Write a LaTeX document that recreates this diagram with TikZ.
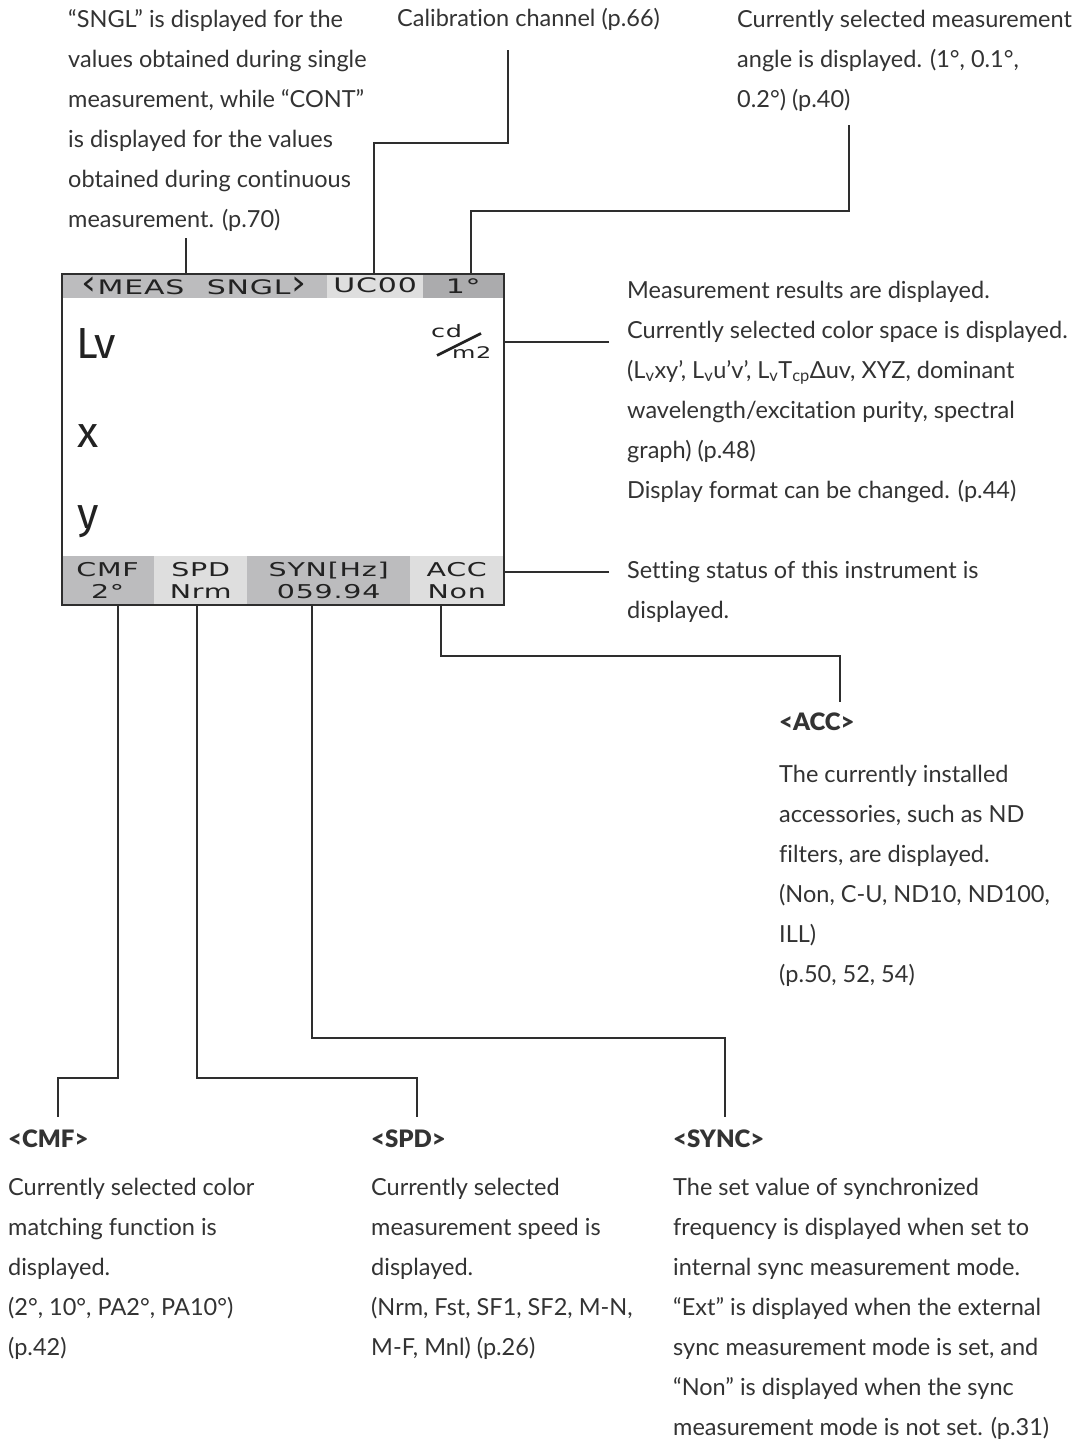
\documentclass[tikz,border=0pt]{standalone}
\usepackage{fontspec}
\setmainfont{Lato}[Ligatures=NoCommon]
\newfontfamily\headfont{Lato Black}
\newfontfamily\lcd[FakeStretch=1.5,LetterSpace=4]{DejaVu Sans}
\newfontfamily\dispfont{Fira Sans}
\definecolor{txt}{HTML}{333333}
\definecolor{linec}{HTML}{2E2E2E}
\definecolor{gmid}{HTML}{BCBCBE}
\definecolor{glight}{HTML}{DEDEDE}
\definecolor{gdark}{HTML}{ABABAD}
\definecolor{lcdtxt}{HTML}{222222}
\newcommand{\lbr}{\raisebox{0.5pt}{\scalebox{1.25}[1.7]{‹}}}
\newcommand{\rbr}{\raisebox{0.5pt}{\scalebox{1.25}[1.7]{›}}}
\tikzset{
  body/.style={anchor=base west, inner sep=0pt, align=left, text=txt, font=\fontsize{23.5}{40}\selectfont},
  head/.style={anchor=base west, inner sep=0pt, text=txt, font=\headfont\fontsize{24}{28}\selectfont},
  conn/.style={draw=linec, line width=1.5pt},
  barseg/.style={anchor=north west, inner sep=0pt, text=lcdtxt, align=center, font=\lcd\fontsize{20}{22}\selectfont},
  dispvar/.style={anchor=base west, inner sep=0pt, text=lcdtxt, font=\dispfont\fontsize{43.5}{44}\selectfont},
}
\begin{document}
\begin{tikzpicture}[x=1pt,y=-1pt]
\useasboundingbox (0,0) rectangle (1087,1440);
\fill[white] (0,0) rectangle (1087,1440);

% display bars
\node[barseg, fill=gmid, minimum width=266pt, minimum height=25pt] (meas) at (61,273) {\lbr\hspace{1pt}MEAS\hspace{12pt} SNGL\hspace{1pt}\rbr};
\node[barseg, fill=glight, minimum width=96pt, minimum height=25pt] (uc) at (327,273) {UC00};
\node[barseg, fill=gdark, minimum width=80pt, minimum height=25pt] (ang) at (423,273) {1°};
\node[barseg, fill=gmid, minimum width=93pt, minimum height=48pt, font=\lcd\fontsize{19}{22}\selectfont] (cmf) at (61,556) {CMF\\2°};
\node[barseg, fill=glight, minimum width=93pt, minimum height=48pt, font=\lcd\fontsize{19}{22}\selectfont] (spd) at (154,556) {SPD\\Nrm};
\node[barseg, fill=gmid, minimum width=163pt, minimum height=48pt, font=\lcd\fontsize{19}{22}\selectfont] (syn) at (247,556) {SYN[Hz]\\059.94};
\node[barseg, fill=glight, minimum width=93pt, minimum height=48pt, font=\lcd\fontsize{19}{22}\selectfont] (acc) at (410,556) {ACC\\Non};
% display frame
\node[draw=linec, line width=2pt, anchor=north west, minimum width=442pt, minimum height=331pt, inner sep=0pt] (disp) at (61,273) {};
\node[dispvar] (lv) at (76,358) {Lv};
\node[dispvar] (vx) at (77,447) {x};
\node[dispvar] (vy) at (77,528) {y};
\node[anchor=base west, inner sep=0pt, text=lcdtxt, font=\lcd\fontsize{17}{18}\selectfont] (cd) at (431,337) {cd};
\node[anchor=base west, inner sep=0pt, text=lcdtxt, font=\lcd\fontsize{16}{18}\selectfont] (m2) at (452,358) {m2};
\draw[lcdtxt, line width=2.6pt] (cd.south west) ++(6,18) coordinate (sl1) -- ++(44,-22) coordinate (sl2);

% annotations top (anchor = baseline of last line)
\node[body] (tSngl) at (68,227) {“SNGL” is displayed for the\\values obtained during single\\measurement, while “CONT”\\is displayed for the values\\obtained during continuous\\measurement. (p.70)};
\node[body] (tCal) at (397,27) {Calibration channel (p.66)};
\node[body] (tAng) at (737,107) {Currently selected measurement\\angle is displayed. (1°, 0.1°,\\0.2°) (p.40)};

% annotations right
\node[body] (tRes) at (627,498) {Measurement results are displayed.\\Currently selected color space is displayed.\\(L\textsubscript{v}xy’, L\textsubscript{v}u’v’, L\textsubscript{v}T\textsubscript{cp}Δuv, XYZ, dominant\\wavelength/excitation purity, spectral\\graph) (p.48)\\Display format can be changed. (p.44)};
\node[body] (tSet) at (627,618) {Setting status of this instrument is\\displayed.};

\node[head] (hAcc) at (779,730) {<ACC>};
\node[body] (tAcc) at (779,982) {The currently installed\\accessories, such as ND\\filters, are displayed.\\(Non, C-U, ND10, ND100,\\ILL)\\(p.50, 52, 54)};

% annotations bottom
\node[head] (hCmf) at (8,1147) {<CMF>};
\node[body] (tCmf) at (8,1355) {Currently selected color\\matching function is\\displayed.\\(2°, 10°, PA2°, PA10°)\\(p.42)};
\node[head] (hSpd) at (371,1147) {<SPD>};
\node[body] (tSpd) at (371,1355) {Currently selected\\measurement speed is\\displayed.\\(Nrm, Fst, SF1, SF2, M-N,\\M-F, Mnl) (p.26)};
\node[head] (hSync) at (673,1147) {<SYNC>};
\node[body] (tSync) at (673,1435) {The set value of synchronized\\frequency is displayed when set to\\internal sync measurement mode.\\“Ext” is displayed when the external\\sync measurement mode is set, and\\“Non” is displayed when the sync\\measurement mode is not set. (p.31)};

% connector waypoints
\coordinate (pSngl) at (186,238);
\coordinate (pCal) at (508,50);
\coordinate (qCal) at (374,143);
\coordinate (pAng) at (849,125);
\coordinate (qAng) at (471,211);
\coordinate (pRes) at (609,342);
\coordinate (pSet) at (609,572);
\coordinate (pAcc) at (441,656);
\coordinate (eAcc) at (840,702);
\coordinate (pSync) at (312,1038);
\coordinate (eSync) at (725,1117);
\coordinate (pSpd) at (197,1078);
\coordinate (eSpd) at (417,1117);
\coordinate (pCmf) at (118,1078);
\coordinate (eCmf) at (58,1117);

% connectors
\draw[conn] (pSngl) -- (pSngl |- disp.north);
\draw[conn] (pCal) |- (qCal) -- (qCal |- disp.north);
\draw[conn] (pAng) |- (qAng) -- (qAng |- disp.north);
\draw[conn] (pRes) -- (pRes -| disp.east);
\draw[conn] (pSet) -- (pSet -| disp.east);
\draw[conn] (pAcc |- disp.south) -- (pAcc) -| (eAcc);
\draw[conn] (pSync |- disp.south) -- (pSync) -| (eSync);
\draw[conn] (pSpd |- disp.south) -- (pSpd) -| (eSpd);
\draw[conn] (pCmf |- disp.south) -- (pCmf) -| (eCmf);
\end{tikzpicture}
\end{document}
